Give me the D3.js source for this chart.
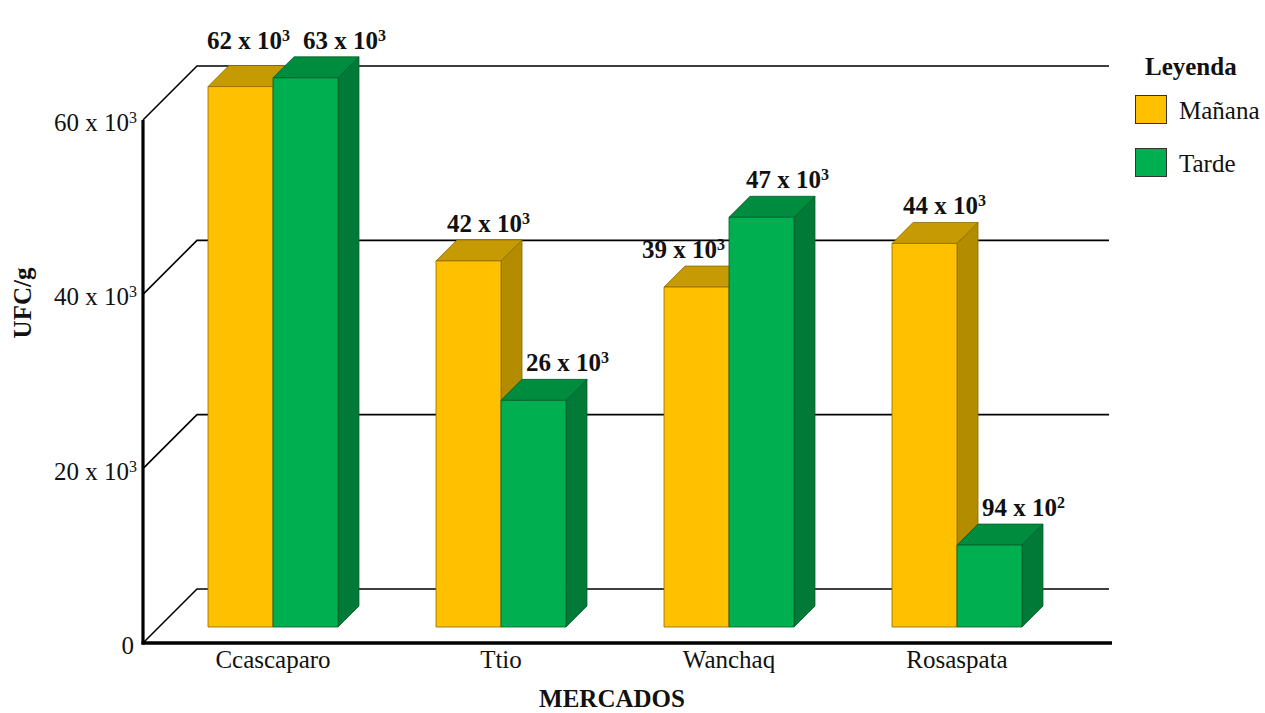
<!DOCTYPE html>
<html>
<head>
<meta charset="utf-8">
<script src="https://cdn.jsdelivr.net/npm/d3@7"></script>
<style>
  html, body { margin: 0; padding: 0; background: #fff; }
  svg { display: block; font-family: "Liberation Serif", "Times New Roman", serif; }
</style>
</head>
<body>
<svg id="chart" width="1265" height="713"></svg>
<script>
// Recuento de UFC/g por mercado y turno de muestreo
const categories = ["Ccascaparo", "Ttio", "Wanchaq", "Rosaspata"];
const seriesNames = ["Mañana", "Tarde"];
const manana = [62000, 42000, 39000, 44000];
const tarde = [63000, 26000, 47000, 9400];
const yTicks = [0, 20000, 40000, 60000];
const yTitle = "UFC/g";
const xTitle = "MERCADOS";
const legendTitle = "Leyenda";

const seriesValues = [manana, tarde];

// Colores por serie: cara frontal, cara superior, cara lateral, borde
const palette = [
  { front: "#FFC000", top: "#C59A02", side: "#B48C00", stroke: "#8C6B00" },
  { front: "#00B050", top: "#008C3F", side: "#007A36", stroke: "#005C28" }
];

const svg = d3.select("#chart");

// Geometría de la caja 3D
const left = 143, bottom = 643, right = 1055;
const depth = 54;          // profundidad total de la caja (desplazamiento x/-y)
const barZ = 16;           // posición de la cara frontal de las barras
const barDepth = 21;       // espesor de las barras

const y = d3.scaleLinear().domain([0, 60000]).range([bottom, 120]);
const x0 = d3.scaleBand().domain(categories).range([left, right])
  .paddingInner(0.43).paddingOuter(0.215);
const x1 = d3.scaleBand().domain(seriesNames).range([0, x0.bandwidth()]);

// Formato "m x 10^e" con exponente en superíndice
function sci(v) {
  if (v === 0) return { m: "0", e: null };
  const e = Math.floor(Math.log10(v)) - 1;
  return { m: String(Math.round(v / Math.pow(10, e))), e: String(e) };
}
function writeSci(sel, v, supSize) {
  const s = sci(v);
  if (s.e === null) { sel.text(s.m); return; }
  sel.append("tspan").text(s.m + " x 10");
  sel.append("tspan").attr("dy", -8).attr("font-size", supSize).text(s.e);
}

// Paredes: líneas de cuadrícula (diagonal en la pared lateral + horizontal al fondo)
const grid = svg.append("g").attr("fill", "none").attr("stroke", "#000");
yTicks.forEach(t => {
  const yy = y(t);
  grid.append("path")
    .attr("stroke-width", 1.6)
    .attr("d", `M${left},${yy}L${left + depth},${yy - depth}L${right + depth},${yy - depth}`);
});

// Eje vertical y línea base
svg.append("line")
  .attr("x1", left).attr("x2", left)
  .attr("y1", y(60000)).attr("y2", bottom + 1.5)
  .attr("stroke", "#000").attr("stroke-width", 3.2);
svg.append("line")
  .attr("x1", left - 1.5).attr("x2", right + depth + 3)
  .attr("y1", bottom).attr("y2", bottom)
  .attr("stroke", "#000").attr("stroke-width", 3.5);

// Etiquetas del eje Y
const yLab = svg.append("g").attr("font-size", 25).attr("fill", "#111").attr("text-anchor", "end");
yTicks.forEach(t => {
  const txt = yLab.append("text")
    .attr("x", t === 0 ? 134 : 137)
    .attr("y", y(t) + 11);
  writeSci(txt, t, 16);
});

// Barras 3D
const bars = svg.append("g");
categories.forEach((c, i) => {
  seriesNames.forEach((s, k) => {
    const v = seriesValues[k][i];
    const col = palette[k];
    const fx = x0(c) + x1(s) + barZ;
    const w = x1.bandwidth();
    const yb = bottom - barZ;
    const yt = y(v) - barZ;
    const d = barDepth;
    const g = bars.append("g").attr("stroke", col.stroke).attr("stroke-width", 0.8).attr("stroke-linejoin", "round");
    g.append("path").attr("fill", col.side)
      .attr("d", `M${fx + w},${yt}L${fx + w + d},${yt - d}L${fx + w + d},${yb - d}L${fx + w},${yb}Z`);
    g.append("path").attr("fill", col.top)
      .attr("d", `M${fx},${yt}L${fx + d},${yt - d}L${fx + w + d},${yt - d}L${fx + w},${yt}Z`);
    g.append("rect").attr("fill", col.front)
      .attr("x", fx).attr("y", yt).attr("width", w).attr("height", yb - yt);
  });
});

// Valores sobre las barras
const valLab = svg.append("g").attr("font-size", 25).attr("font-weight", "bold").attr("fill", "#111");
categories.forEach((c, i) => {
  const w = x1.bandwidth();
  const fxA = x0(c) + x1(seriesNames[0]) + barZ;
  const fxB = x0(c) + x1(seriesNames[1]) + barZ;
  const vA = manana[i], vB = tarde[i];
  const baseA = y(vA) - barZ - barDepth - 8;
  const baseB = y(vB) - barZ - barDepth - 8;
  const txtA = valLab.append("text");
  const txtB = valLab.append("text");
  if (Math.abs(baseA - baseB) < 28) {
    // Alturas parecidas: ambas etiquetas en una misma línea, lado a lado
    const base = Math.min(baseA, baseB);
    txtA.attr("y", base).attr("text-anchor", "end").attr("x", fxB + 17);
    txtB.attr("y", base).attr("text-anchor", "start").attr("x", fxB + 30);
  } else if (baseB < baseA) {
    // La barra de la tarde tapa el espacio sobre la de la mañana
    txtA.attr("y", baseA).attr("text-anchor", "end").attr("x", fxB - 4);
    txtB.attr("y", baseB).attr("text-anchor", "middle").attr("x", fxB + w / 2 + 26);
  } else {
    txtA.attr("y", baseA).attr("text-anchor", "middle").attr("x", fxA + w / 2 + 20);
    txtB.attr("y", baseB).attr("text-anchor", "middle").attr("x", fxB + w / 2 + 34);
  }
  writeSci(txtA, vA, 16);
  writeSci(txtB, vB, 16);
});

// Etiquetas de categorías
svg.append("g").attr("font-size", 25).attr("fill", "#111").attr("text-anchor", "middle")
  .selectAll("text").data(categories).join("text")
  .attr("x", c => x0(c) + barZ + x0.bandwidth() / 2)
  .attr("y", 668)
  .text(c => c);

// Títulos de ejes
svg.append("text")
  .attr("x", 612).attr("y", 707)
  .attr("text-anchor", "middle").attr("font-size", 25).attr("font-weight", "bold")
  .attr("fill", "#111").text(xTitle);
svg.append("text")
  .attr("transform", "translate(31,303) rotate(-90)")
  .attr("text-anchor", "middle").attr("font-size", 25).attr("font-weight", "bold")
  .attr("fill", "#111").text(yTitle);

// Leyenda
const leg = svg.append("g");
leg.append("text")
  .attr("x", 1145).attr("y", 75)
  .attr("font-size", 25).attr("font-weight", "bold").attr("fill", "#111")
  .text(legendTitle);
seriesNames.forEach((s, k) => {
  const yy = 95 + k * 53;
  leg.append("rect")
    .attr("x", 1135.5).attr("y", yy + 0.5).attr("width", 31).attr("height", 28)
    .attr("fill", palette[k].front).attr("stroke", "#333").attr("stroke-width", 1);
  leg.append("text")
    .attr("x", 1179).attr("y", yy + 24)
    .attr("font-size", 25).attr("fill", "#111")
    .text(s);
});
</script>
</body>
</html>
